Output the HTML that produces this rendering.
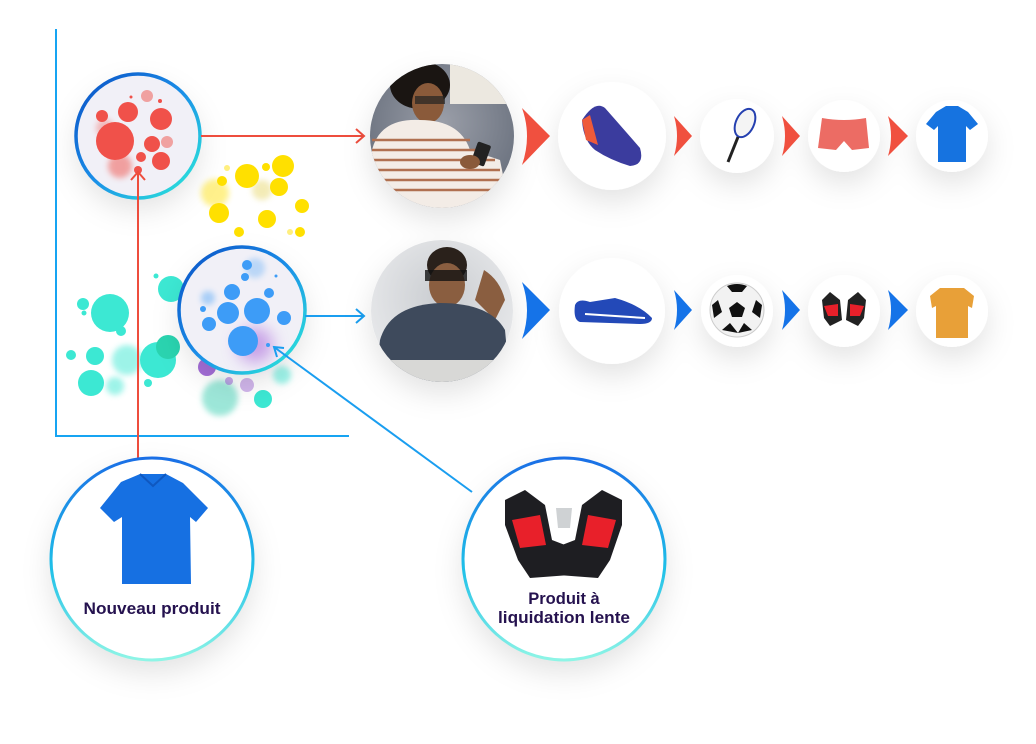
<!DOCTYPE html>
<html><head><meta charset="utf-8"><style>
html,body{margin:0;padding:0;background:#fff;}
svg{display:block;}
text{font-family:"Liberation Sans",sans-serif;font-weight:bold;fill:#25124f;}
</style></head><body>
<svg width="1036" height="744" viewBox="0 0 1036 744" xmlns="http://www.w3.org/2000/svg">
<defs>
<linearGradient id="ring" x1="0" y1="0" x2="1" y2="1"><stop offset="0" stop-color="#0a4fc4"/><stop offset="0.5" stop-color="#1a8ee8"/><stop offset="1" stop-color="#2ef0d8"/></linearGradient>
<linearGradient id="ringv" x1="0" y1="0" x2="0" y2="1"><stop offset="0" stop-color="#1a6fe6"/><stop offset="0.55" stop-color="#1fc0e8"/><stop offset="1" stop-color="#8ef5e6"/></linearGradient>
<filter id="sh" x="-40%" y="-40%" width="180%" height="190%"><feDropShadow dx="0" dy="12" stdDeviation="14" flood-color="#000" flood-opacity="0.11"/></filter>
<filter id="bl" x="-50%" y="-50%" width="200%" height="200%"><feGaussianBlur stdDeviation="3"/></filter>
<filter id="bl2" x="-50%" y="-50%" width="200%" height="200%"><feGaussianBlur stdDeviation="8"/></filter>
<radialGradient id="w" cx="0.5" cy="0.4" r="0.6"><stop offset="0" stop-color="#9a9ea8"/><stop offset="1" stop-color="#6a717e"/></radialGradient>
<radialGradient id="m" cx="0.5" cy="0.4" r="0.6"><stop offset="0" stop-color="#c9ccd0"/><stop offset="1" stop-color="#e9eaec"/></radialGradient>
<clipPath id="c1"><circle cx="442" cy="136" r="72"/></clipPath>
<clipPath id="c2"><circle cx="442" cy="311" r="71"/></clipPath>
</defs>

<line x1="56" y1="29" x2="56" y2="436" stroke="#17a4f2" stroke-width="2"/>
<line x1="55" y1="436" x2="349" y2="436" stroke="#17a4f2" stroke-width="2"/>

<g fill="#ffe000">
<circle cx="215" cy="193" r="14" opacity="0.45" filter="url(#bl)"/>
<circle cx="262" cy="190" r="10" fill="#e8d870" opacity="0.5" filter="url(#bl)"/>
<circle cx="247" cy="176" r="12"/><circle cx="283" cy="166" r="11"/><circle cx="279" cy="187" r="9"/>
<circle cx="219" cy="213" r="10"/><circle cx="267" cy="219" r="9"/><circle cx="302" cy="206" r="7"/>
<circle cx="222" cy="181" r="5"/><circle cx="239" cy="232" r="5"/><circle cx="300" cy="232" r="5"/><circle cx="266" cy="167" r="4"/>
<circle cx="290" cy="232" r="3" opacity="0.5"/><circle cx="227" cy="168" r="3" opacity="0.5"/>
</g>

<g fill="#3ce8d3">
<circle cx="127" cy="360" r="15" opacity="0.5" filter="url(#bl)"/>
<circle cx="115" cy="386" r="9" opacity="0.5" filter="url(#bl)"/>
<circle cx="220" cy="398" r="18" fill="#5dd8c0" opacity="0.6" filter="url(#bl)"/>
<circle cx="282" cy="375" r="9" opacity="0.5" filter="url(#bl)"/>
<circle cx="110" cy="313" r="19"/><circle cx="171" cy="289" r="13"/><circle cx="158" cy="360" r="18"/>
<circle cx="168" cy="347" r="12" fill="#2ad4b0"/><circle cx="91" cy="383" r="13"/><circle cx="95" cy="356" r="9"/>
<circle cx="83" cy="304" r="6"/><circle cx="71" cy="355" r="5"/><circle cx="263" cy="399" r="9"/>
<circle cx="84" cy="313" r="2.5"/><circle cx="156" cy="276" r="2.5"/><circle cx="121" cy="331" r="5"/><circle cx="148" cy="383" r="4"/>
</g>
<g fill="#a46ed8">
<circle cx="207" cy="367" r="9"/><circle cx="247" cy="385" r="7" opacity="0.5"/><circle cx="229" cy="381" r="4" opacity="0.6"/>
</g>

<circle cx="138" cy="136" r="62" fill="#f1f0f7" filter="url(#sh)"/>
<g fill="#f0514a">
<circle cx="120" cy="166" r="12" opacity="0.5" filter="url(#bl)"/>
<circle cx="105" cy="128" r="9" opacity="0.35" filter="url(#bl)"/>
<circle cx="147" cy="96" r="6" opacity="0.5"/><circle cx="167" cy="142" r="6" opacity="0.5"/>
<circle cx="115" cy="141" r="19"/><circle cx="128" cy="112" r="10"/><circle cx="161" cy="119" r="11"/>
<circle cx="102" cy="116" r="6"/><circle cx="152" cy="144" r="8"/><circle cx="161" cy="161" r="9"/>
<circle cx="141" cy="157" r="5"/><circle cx="138" cy="170" r="4"/><circle cx="160" cy="101" r="2"/><circle cx="131" cy="97" r="1.5"/>
</g>
<circle cx="138" cy="136" r="62" fill="none" stroke="url(#ring)" stroke-width="3.5"/>

<circle cx="242" cy="310" r="63" fill="#f1f0f7" filter="url(#sh)"/>
<circle cx="255" cy="345" r="18" fill="#b57ee0" opacity="0.7" filter="url(#bl2)"/>
<g fill="#3d9cf7">
<circle cx="255" cy="268" r="10" opacity="0.3" filter="url(#bl)"/>
<circle cx="208" cy="298" r="7" opacity="0.4" filter="url(#bl)"/>
<circle cx="228" cy="313" r="11"/><circle cx="257" cy="311" r="13"/><circle cx="243" cy="341" r="15"/>
<circle cx="232" cy="292" r="8"/><circle cx="284" cy="318" r="7"/><circle cx="209" cy="324" r="7"/>
<circle cx="269" cy="293" r="5"/><circle cx="247" cy="265" r="5"/><circle cx="245" cy="277" r="4"/>
<circle cx="203" cy="309" r="3"/><circle cx="268" cy="345" r="2"/><circle cx="276" cy="276" r="1.5"/>
</g>
<circle cx="242" cy="310" r="63" fill="none" stroke="url(#ring)" stroke-width="3.5"/>

<g stroke="#ee4d3d" stroke-width="2" fill="none">
<line x1="201" y1="136" x2="364" y2="136"/><polyline points="356,129 364,136 356,143"/>
<line x1="138" y1="462" x2="138" y2="172"/><polyline points="131,180 138,172 145,180"/>
</g>
<g stroke="#1a9ef0" stroke-width="2" fill="none">
<line x1="305" y1="316" x2="364" y2="316"/><polyline points="356,309 364,316 356,323"/>
<line x1="472" y1="492" x2="274" y2="347"/><polyline points="277,357 274,347 284,348"/>
</g>

<g filter="url(#sh)"><circle cx="442" cy="136" r="72" fill="#fff"/><circle cx="442" cy="311" r="71" fill="#fff"/></g>
<g clip-path="url(#c1)">
<rect x="370" y="64" width="145" height="145" fill="url(#w)"/>
<rect x="450" y="64" width="65" height="40" fill="#ece8e0"/>
<ellipse cx="420" cy="85" rx="30" ry="24" fill="#1a1512"/>
<ellipse cx="428" cy="103" rx="16" ry="20" fill="#8a5a3a"/>
<rect x="415" y="96" width="30" height="8" fill="#222" opacity="0.7"/>
<path d="M372 150 Q380 118 420 120 Q460 120 470 150 L500 160 L510 210 L372 210 Z" fill="#f3ece6"/>
<g stroke="#b07050" stroke-width="2.5"><line x1="372" y1="140" x2="470" y2="140"/><line x1="372" y1="150" x2="480" y2="150"/><line x1="372" y1="160" x2="495" y2="160"/><line x1="372" y1="170" x2="500" y2="170"/><line x1="372" y1="180" x2="505" y2="180"/><line x1="372" y1="190" x2="505" y2="190"/></g>
<rect x="474" y="143" width="14" height="22" rx="2" fill="#222" transform="rotate(20 481 154)"/>
<ellipse cx="470" cy="162" rx="10" ry="7" fill="#8a5a3a"/>
</g>
<g clip-path="url(#c2)">
<rect x="370" y="240" width="145" height="145" fill="url(#m)"/>
<ellipse cx="447" cy="265" rx="20" ry="18" fill="#2a211b"/>
<ellipse cx="447" cy="285" rx="18" ry="22" fill="#8a5e40"/>
<rect x="425" y="270" width="42" height="11" fill="#111" opacity="0.8"/>
<path d="M484 270 Q500 280 505 300 L495 320 L475 300 Z" fill="#8a5e40"/>
<path d="M380 340 Q390 305 440 303 Q490 303 505 330 L510 385 L375 385 Z" fill="#3e4a5c"/>
<rect x="370" y="360" width="145" height="25" fill="#d8d8d6"/>
</g>

<g fill="#fff" filter="url(#sh)">
<circle cx="612" cy="136" r="54"/><circle cx="737" cy="136" r="37"/><circle cx="844" cy="136" r="36"/><circle cx="952" cy="136" r="36"/>
<circle cx="612" cy="311" r="53"/><circle cx="737" cy="311" r="36"/><circle cx="844" cy="311" r="36"/><circle cx="952" cy="311" r="36"/>
</g>

<g fill="#f0503f">
<path d="M522 108 L550 136 L522 165 Q532 136 522 108Z"/>
<path d="M674 116 L692 136 L674 156 Q680 136 674 116Z"/>
<path d="M782 116 L800 136 L782 156 Q788 136 782 116Z"/>
<path d="M888 116 L908 136 L888 156 Q894 136 888 116Z"/>
</g>
<g fill="#1573e8">
<path d="M522 282 L550 310 L522 339 Q532 310 522 282Z"/>
<path d="M674 290 L692 310 L674 330 Q680 310 674 290Z"/>
<path d="M782 290 L800 310 L782 330 Q788 310 782 290Z"/>
<path d="M888 290 L908 310 L888 330 Q894 310 888 290Z"/>
</g>

<path d="M582 120 Q595 100 605 108 Q620 125 640 148 Q645 165 630 166 Q610 160 595 150 Q583 140 582 120Z" fill="#3b3c9e"/>
<path d="M582 120 L590 115 L598 145 L586 140Z" fill="#ee5a3a"/>
<ellipse cx="745" cy="123" rx="9" ry="15" fill="#f4f4f4" stroke="#2540b0" stroke-width="2" transform="rotate(25 745 123)"/>
<line x1="738" y1="137" x2="728" y2="162" stroke="#222" stroke-width="3"/>
<path d="M822 118 Q844 122 866 118 L869 148 L852 150 L844 141 L836 150 L818 148 Z" fill="#ec6c64"/>
<path d="M936 112 L946 106 L958 106 L968 112 L978 124 L970 130 L966 126 L966 162 L938 162 L938 126 L934 130 L926 124Z" fill="#1673e0"/>
<path d="M575 305 Q578 298 590 302 L615 298 Q640 305 652 318 Q652 324 640 324 L580 322 Q573 320 575 305Z" fill="#2349b8"/>
<path d="M585 314 L645 318" stroke="#fff" stroke-width="2"/>
<circle cx="737" cy="310" r="27" fill="#f2f2f2" stroke="#ccc"/>
<path d="M737 302 L745 308 L742 317 L732 317 L729 308Z" fill="#111"/>
<path d="M727 286 Q737 282 747 286 L742 292 L732 292Z M712 305 L718 300 L722 312 L714 318Z M762 305 L756 300 L752 312 L760 318Z M722 330 L730 323 L738 333Z M752 330 L744 323 L738 333Z" fill="#111"/>
<path d="M822 300 L830 292 L840 300 L842 320 L830 326 L824 318Z M866 300 L858 292 L848 300 L846 320 L858 326 L864 318Z" fill="#222"/>
<path d="M824 306 L838 304 L838 316 L828 316Z M864 306 L850 304 L850 316 L860 316Z" fill="#e8202a"/>
<path d="M940 288 L964 288 L974 296 L972 308 L968 306 L968 338 L936 338 L936 306 L932 308 L930 296Z" fill="#e8a038"/>

<g filter="url(#sh)"><circle cx="152" cy="559" r="102" fill="#fff"/><circle cx="564" cy="559" r="102" fill="#fff"/></g>
<circle cx="152" cy="559" r="101" fill="none" stroke="url(#ringv)" stroke-width="3"/>
<circle cx="564" cy="559" r="101" fill="none" stroke="url(#ringv)" stroke-width="3"/>
<path d="M121 482 L140 474 L166 474 L183 483 L208 508 L196 522 L190 517 L191 584 L122 584 L122 517 L114 522 L100 508Z" fill="#1670e2"/>
<path d="M140 474 L153 486 L166 474" fill="none" stroke="#0f58c0" stroke-width="2"/>
<path d="M505 500 L525 490 L545 505 L552 540 L565 545 L570 575 L530 578 L518 560 L505 525Z" fill="#1e1e22"/>
<path d="M622 500 L602 490 L582 505 L575 540 L562 545 L558 575 L598 578 L610 560 L622 525Z" fill="#1e1e22"/>
<path d="M512 520 L540 515 L546 545 L520 548Z M616 520 L588 515 L582 545 L608 548Z" fill="#e8202a"/>
<path d="M556 508 L572 508 L570 528 L558 528Z" fill="#cfd2d4"/>
<text x="152" y="614" font-size="16.5" text-anchor="middle" textLength="137" lengthAdjust="spacingAndGlyphs">Nouveau produit</text>
<text x="564" y="604" font-size="16.5" text-anchor="middle">Produit à</text>
<text x="564" y="623" font-size="16.5" text-anchor="middle" textLength="132" lengthAdjust="spacingAndGlyphs">liquidation lente</text>
</svg>
</body></html>
